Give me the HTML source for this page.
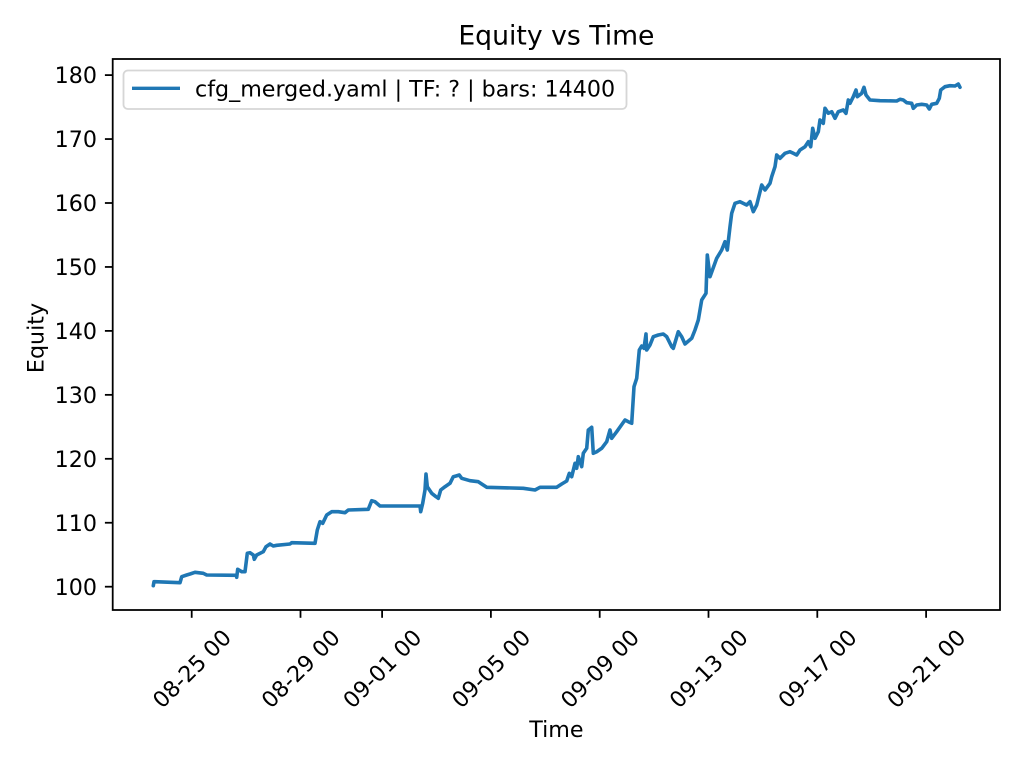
<!DOCTYPE html>
<html>
<head>
<meta charset="utf-8">
<style>
  html, body { margin: 0; padding: 0; background: #ffffff; }
  svg { display: block; }
  text { font-family: "DejaVu Sans", "Liberation Sans", sans-serif; fill: #000; }
</style>
</head>
<body>
<svg width="1024" height="768" viewBox="0 0 1024 768" xmlns="http://www.w3.org/2000/svg">
  <rect x="0" y="0" width="1024" height="768" fill="#ffffff"/>

  <!-- Title -->
  <text x="556.4" y="44.5" font-size="26.67" text-anchor="middle">Equity vs Time</text>

  <!-- Data line -->
  <polyline fill="none" stroke="#1f77b4" stroke-width="3.6" stroke-linejoin="round" stroke-linecap="round"
    points="153.3,585.7 154,581.7 155,581.7 180,582.7 181.7,576.7 186.7,575 190,574 195,572.3 203.3,573.3 206.7,575 236.7,575.3 236.7,577.3 237.7,569.3 241.7,571.7 245,571.7 247.3,553.3 250,552.7 253.3,555 254.3,559.3 256.7,555 263.3,551.7 266,546.7 270,544 273.3,546 276.7,545.3 290,544 291.7,542.7 315,543.3 317.3,530 320,521.7 322.7,523.3 326.7,515 331.7,511.7 338.3,511.7 345,512.7 348.3,510 368.3,509.3 371.7,500.7 375,501.7 380,506 420,506 420.7,511.7 422.7,503.3 425,490 426,474 427.3,486.7 431.7,493.3 436,496.7 438.3,498.3 440.7,490 445,486.7 450,483.3 453.3,476.7 456,476 459.3,475 461.7,478.3 470,480.7 478.3,481.7 481.7,484 486.7,487.3 523.3,488.3 535,490 540,487.3 556.7,487.3 561.7,484 566.7,481 569.3,473.3 571.7,476.7 575,463.3 576.7,468.3 578.3,456.7 581.7,466.7 583.3,453.3 586.7,448.3 588.3,430 591.7,427.3 593.3,453.3 596.7,451.7 601.7,448.3 606.7,441.7 610,430 611.7,438.3 616.7,431.7 625,420 628.3,421.7 631.7,423.3 634,386.7 636.7,378.3 639.3,350 641.7,346 644,348.3 646,334 646.7,350 650,345 653.3,336.7 658.3,335 663.3,334 666.7,336.7 671.7,346.7 673.3,348.3 678.3,331.7 681.7,336.7 685,344 691.7,338.3 695,330 698.3,320 701.7,300 706,293.3 707.3,255 710,276.7 716.7,258.3 721.7,250 725,241.7 727.3,250 730,226.7 731.7,213.3 735,203.3 740,201.7 746.7,205 750,201.7 753.3,211.7 756.7,205 761.7,185 765,190 770,183.3 771.7,176.7 775,166.7 776.7,155 780,158.3 785,153.3 790,151.7 793.3,153.3 796.7,155 800,150 805,146.7 808.3,141.7 810.7,146.7 812.7,128.3 815,138.3 818.3,131.7 820,120 823.3,123.3 825,108.3 828.3,113.3 831.7,111.7 835,118.3 838.3,111.7 843.3,110 846,113.3 848.3,100 850,103.3 853.3,96.7 856,90 857.3,96.7 861.7,93.3 864,87.3 866,95 870,100 880,100.7 896.7,101 900,99.3 903.3,100 906.7,102.7 911.7,103.3 913.3,108.3 916.7,105 921.7,104.3 926.7,105 929.3,109 931.7,104.3 936.7,103.3 939.3,98.3 940.7,90 945,86.7 950,85.7 955,86 958.3,84 960,87.3"/>

  <!-- Axes spines -->
  <rect x="112.7" y="59" width="887.3" height="551" fill="none" stroke="#000" stroke-width="1.78"/>

  <!-- Y ticks -->
  <g stroke="#000" stroke-width="1.78">
    <line x1="104.9" y1="586.7" x2="112.7" y2="586.7"/>
    <line x1="104.9" y1="522.75" x2="112.7" y2="522.75"/>
    <line x1="104.9" y1="458.8" x2="112.7" y2="458.8"/>
    <line x1="104.9" y1="394.85" x2="112.7" y2="394.85"/>
    <line x1="104.9" y1="330.9" x2="112.7" y2="330.9"/>
    <line x1="104.9" y1="266.95" x2="112.7" y2="266.95"/>
    <line x1="104.9" y1="203" x2="112.7" y2="203"/>
    <line x1="104.9" y1="139.05" x2="112.7" y2="139.05"/>
    <line x1="104.9" y1="75.1" x2="112.7" y2="75.1"/>
  </g>
  <g font-size="22.2" text-anchor="end">
    <text x="97" y="594.8">100</text>
    <text x="97" y="530.85">110</text>
    <text x="97" y="466.9">120</text>
    <text x="97" y="402.95">130</text>
    <text x="97" y="339">140</text>
    <text x="97" y="275.05">150</text>
    <text x="97" y="211.1">160</text>
    <text x="97" y="147.15">170</text>
    <text x="97" y="83.2">180</text>
  </g>

  <!-- X ticks -->
  <g stroke="#000" stroke-width="1.78">
    <line x1="191.7" y1="610" x2="191.7" y2="617.8"/>
    <line x1="300.5" y1="610" x2="300.5" y2="617.8"/>
    <line x1="382.1" y1="610" x2="382.1" y2="617.8"/>
    <line x1="490.9" y1="610" x2="490.9" y2="617.8"/>
    <line x1="599.7" y1="610" x2="599.7" y2="617.8"/>
    <line x1="708.5" y1="610" x2="708.5" y2="617.8"/>
    <line x1="817.3" y1="610" x2="817.3" y2="617.8"/>
    <line x1="926.1" y1="610" x2="926.1" y2="617.8"/>
  </g>
  <g font-size="22.2" text-anchor="middle">
    <text x="191.7" y="676.5" transform="rotate(-45 191.7 668.5)">08-25 00</text>
    <text x="300.5" y="676.5" transform="rotate(-45 300.5 668.5)">08-29 00</text>
    <text x="382.1" y="676.5" transform="rotate(-45 382.1 668.5)">09-01 00</text>
    <text x="490.9" y="676.5" transform="rotate(-45 490.9 668.5)">09-05 00</text>
    <text x="599.7" y="676.5" transform="rotate(-45 599.7 668.5)">09-09 00</text>
    <text x="708.5" y="676.5" transform="rotate(-45 708.5 668.5)">09-13 00</text>
    <text x="817.3" y="676.5" transform="rotate(-45 817.3 668.5)">09-17 00</text>
    <text x="926.1" y="676.5" transform="rotate(-45 926.1 668.5)">09-21 00</text>
  </g>

  <!-- Axis labels -->
  <text x="556.4" y="737" font-size="22.2" text-anchor="middle">Time</text>
  <text transform="translate(43.3 338) rotate(-90)" x="0" y="0" font-size="22.2" text-anchor="middle">Equity</text>

  <!-- Legend -->
  <rect x="123.5" y="70.5" width="503" height="38.5" rx="4.4" ry="4.4" fill="#ffffff" fill-opacity="0.8" stroke="#d6d6d6" stroke-width="1.8"/>
  <line x1="132" y1="88.3" x2="180" y2="88.3" stroke="#1f77b4" stroke-width="3.33"/>
  <text x="195" y="96.3" font-size="22.2">cfg_merged.yaml | TF: ? | bars: 14400</text>
</svg>
</body>
</html>
